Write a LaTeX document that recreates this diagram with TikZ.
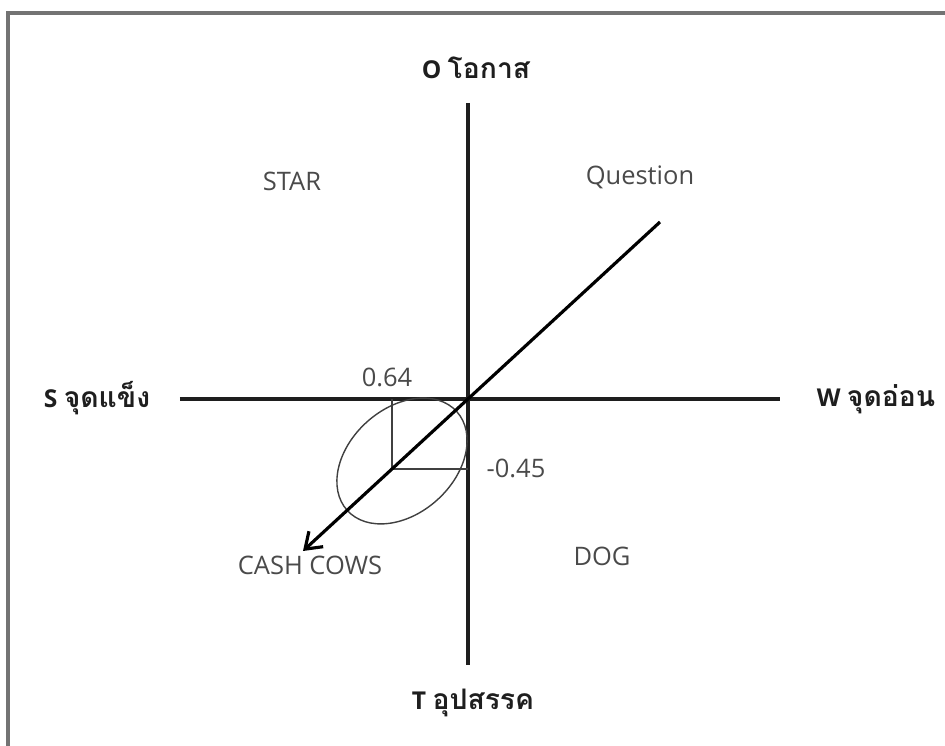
\documentclass[tikz,border=0pt]{standalone}
\usepackage{fontspec}
\setmainfont{Open Sans}
\newfontfamily\thaifont[Script=Thai,Scale=1.15]{Loma}
\usepackage{tikz}
\usetikzlibrary{positioning,arrows.meta,shapes.geometric}
\usepackage{xcolor}
\definecolor{quadgray}{HTML}{4A4A4A}
\definecolor{axisink}{HTML}{1E1E1E}

\begin{document}
\begin{tikzpicture}[
  axis/.style={line width=2.5pt, axisink},
  quad/.style={font=\fontsize{14.5}{16}\selectfont, text=quadgray},
  side/.style={font=\fontsize{14}{16}\selectfont\bfseries, text=axisink},
  thin/.style={line width=0.8pt, black!75}
]
\useasboundingbox (-9.36,-6.94) rectangle (9.54,7.98);
% frame
\draw[line width=2pt, black!55] (-9.2,-6.94) -- (-9.2,7.72) -- (9.54,7.72);

% axes
\coordinate (o) at (0,0);
\coordinate (top) at (0,5.92);
\coordinate (bottom) at (0,-5.32);
\coordinate (left) at (-5.76,0);
\coordinate (right) at (6.24,0);
\draw[axis] (top) -- (bottom);
\draw[axis] (left) -- (right);

\node[side] (opp) at (0.16,6.62) {O {\thaifont\bfseries โอกาส}};
\node[side] (thr) at (0.1,-6.08) {T {\thaifont\bfseries อุปสรรค}};
\node[side] (str) at (-7.42,0.02) {S {\thaifont\bfseries จุดแข็ง}};
\node[side] (wea) at (8.16,0) {W {\thaifont\bfseries จุดอ่อน}};

% quadrants
\node[quad] (star) at (-3.52,4.36) {STAR};
\node[quad] (ques) at (3.44,4.44) {Question};
\node[quad] (cash) at (-3.16,-3.32) {CASH COWS};
\node[quad] (dog) at (2.68,-3.14) {DOG};

% position
\coordinate (qend) at (3.84,3.54);
\coordinate (tip) at (-3.3,-3.04);
\coordinate (corner) at (-1.52,-1.4);
\draw[thin] (corner |- o) -- (corner) -- (corner -| o);
\node[draw, thin, ellipse, inner sep=0pt, minimum width=2.95cm, minimum height=2.1cm, rotate=42] (zone) at (-1.32,-1.24) {};
\draw[line width=1.8pt, -{Straight Barb[length=3mm,width=4.2mm]}] (qend) -- (tip);

\node[quad] (sval) at (-1.62,0.44) {0.64};
\node[quad] (wval) at (0.96,-1.38) {-0.45};
\end{tikzpicture}
\end{document}
